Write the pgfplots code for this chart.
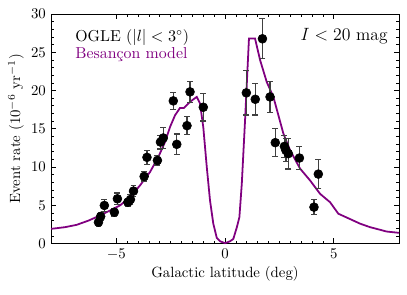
\documentclass[border=0pt]{standalone}
\usepackage{pgfplots}
\pgfplotsset{compat=1.18}
\definecolor{mpurple}{HTML}{800080}
\definecolor{errgray}{HTML}{404040}
\begin{document}
\begin{tikzpicture}
\begin{axis}[
  scale only axis,
  width=235pt, height=155pt,
  xmin=-8, xmax=8, ymin=0, ymax=30,
  xtick={-5,0,5}, ytick={0,5,10,15,20,25,30},
  minor x tick num=9, minor y tick num=4,
  tick align=inside, tick pos=both,
  major tick length=3.5pt, minor tick length=2pt,
  axis line style={line width=0.6pt},
  every tick/.style={line width=0.5pt, black},
  xlabel={Galactic latitude (deg)},
  ylabel={Event rate ($10^{-6}$ yr$^{-1}$)},
  xlabel style={yshift=2pt},
  ylabel style={yshift=-2pt},
  clip=false,
]
\addplot[mpurple, line width=1.2pt] coordinates {
(-8,1.92) (-7.36,2.14) (-6.82,2.45) (-6.28,3.0) (-5.75,3.67) (-5.29,4.32)
(-4.83,4.98) (-4.37,6.07) (-3.91,7.6) (-3.45,9.35) (-3.07,11.3) (-2.76,13.27)
(-2.53,15.24) (-2.3,16.77) (-2.07,17.73) (-1.89,17.73) (-1.69,18.3) (-1.53,18.7)
(-1.3,19.17) (-1.15,18.3) (-1.0,15.2) (-0.84,10.0) (-0.69,5.6) (-0.54,2.6)
(-0.38,0.74) (-0.23,0.3) (0,0.05) (0.23,0.3) (0.38,0.6) (0.54,2.1) (0.66,3.45)
(0.77,7.8) (0.92,16.1) (1.1,26.8) (1.38,26.8) (1.61,24.0) (1.92,21.1) (2.22,19.2)
(2.45,16.8) (2.68,14.4) (2.99,12.2) (3.45,9.8) (3.91,8.25) (4.37,6.5) (4.83,5.4)
(5.21,3.9) (5.75,3.2) (6.21,2.6) (6.67,2.14) (7.13,1.8) (7.43,1.57) (8,1.4)
};
\addplot[only marks, mark=*, mark size=3pt, black,
  error bars/.cd, y dir=both, y explicit,
  error bar style={errgray, line width=0.8pt},
  error mark options={rotate=90, mark size=2pt, errgray, line width=0.8pt}]
table[x=x, y=y, y error=e] {
x y e
-5.82 2.79 0.5
-5.72 3.54 0.5
-5.55 4.98 0.75
-5.09 4.10 0.5
-4.95 5.85 0.75
-4.47 5.40 0.5
-4.35 5.76 0.6
-4.21 6.86 0.7
-3.72 8.78 0.6
-3.59 11.27 0.9
-3.11 10.87 0.6
-2.97 13.27 0.9
-2.84 13.80 1.35
-2.38 18.65 1.1
-2.22 12.97 1.35
-1.75 15.41 1.15
-1.61 19.83 1.35
-1.00 17.82 1.8
0.98 19.70 2.9
1.39 18.86 2.05
1.72 26.77 2.6
2.07 19.17 2.0
2.31 13.19 1.8
2.73 12.70 1.45
2.80 12.18 1.5
2.91 11.75 2.0
3.42 11.18 1.55
4.09 4.76 1.0
4.29 9.08 1.9
};
\node[anchor=north west, inner sep=0pt, font=\fontsize{10.7}{13}\selectfont] at (rel axis cs:0.069,0.936) {OGLE ($|l| < 3^\circ$)};
\node[anchor=north west, inner sep=0pt, text=mpurple, font=\fontsize{10.7}{13}\selectfont] at (rel axis cs:0.069,0.857) {Besan\c{c}on model};
\node[anchor=north east, inner sep=0pt, font=\fontsize{11.8}{14}\selectfont] at (rel axis cs:0.968,0.938) {$I < 20$ mag};
\end{axis}
\pgfresetboundingbox
\path[use as bounding box] (current axis.south west) ++(-34.5pt,-34.5pt) rectangle ([shift={(5.4pt,9.5pt)}]current axis.north east);
\end{tikzpicture}
\end{document}
